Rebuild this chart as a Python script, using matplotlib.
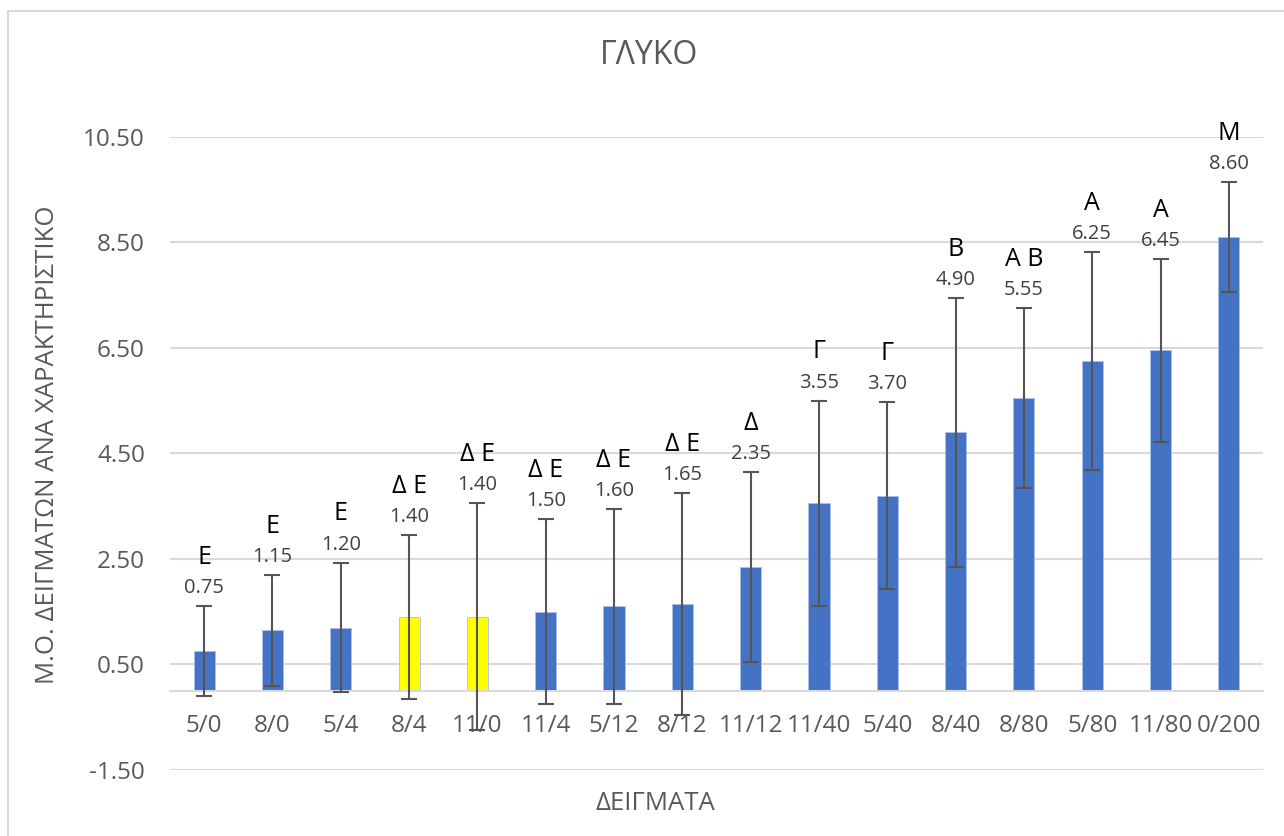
import matplotlib
matplotlib.use('Agg')
import matplotlib.pyplot as plt
import numpy as np

# Data
samples = ['5/0', '8/0', '5/4', '8/4', '11/0', '11/4', '5/12', '8/12',
           '11/12', '11/40', '5/40', '8/40', '8/80', '5/80', '11/80', '0/200']
means = [0.75, 1.15, 1.20, 1.40, 1.40, 1.50, 1.60, 1.65,
         2.35, 3.55, 3.70, 4.90, 5.55, 6.25, 6.45, 8.60]
errors = [0.85, 1.05, 1.23, 1.56, 2.15, 1.75, 1.84, 2.10,
          1.80, 1.95, 1.77, 2.55, 1.70, 2.07, 1.73, 1.04]
groups = ['Ε', 'Ε', 'Ε', 'Δ Ε', 'Δ Ε', 'Δ Ε', 'Δ Ε', 'Δ Ε',
          'Δ', 'Γ', 'Γ', 'Β', 'Α Β', 'Α', 'Α', 'Μ']
highlight = ['8/4', '11/0']

title = 'ΓΛΥΚΟ'
x_title = 'ΔΕΙΓΜΑΤΑ'
y_title = 'Μ.Ο. ΔΕΙΓΜΑΤΩΝ ΑΝΑ ΧΑΡΑΚΤΗΡΙΣΤΙΚΟ'
y_ticks = [-1.5, 0.5, 2.5, 4.5, 6.5, 8.5, 10.5]

plt.rcParams['font.family'] = ['Open Sans', 'DejaVu Sans']

blue = '#4472C4'
yellow = '#FFFF00'
grey_txt = '#595959'
grid_col = '#D9D9D9'

fig = plt.figure(figsize=(12.84, 8.36), dpi=100)
ax = fig.add_axes([170 / 1284, 1 - 770 / 836, 1093 / 1284, (770 - 136.7) / 836])

x = np.arange(len(samples))
colors = [yellow if s in highlight else blue for s in samples]
ax.bar(x, means, width=0.31, color=colors, edgecolor='#A9C0E8', linewidth=0.6, zorder=2)
ax.errorbar(x, means, yerr=errors, fmt='none', ecolor='#555555', elinewidth=1.5,
            capsize=6, capthick=1.5, zorder=3)

# value labels and group letters above the error bars
for i in range(len(samples)):
    top = means[i] + errors[i]
    ax.annotate(f'{means[i]:.2f}', xy=(i, top), xytext=(0, 13), textcoords='offset points',
                ha='center', va='center', fontsize=14.5, color='#404040')
    ax.annotate(groups[i], xy=(i, top), xytext=(0, 35), textcoords='offset points',
                ha='center', va='center', fontsize=18, color='black')

ax.set_xlim(-0.5, len(samples) - 0.5)
ax.set_ylim(-1.5, 10.5)
ax.set_yticks(y_ticks)
ax.set_yticklabels([f'{v:.2f}' for v in y_ticks])
ax.set_xticks(x)
ax.set_xticklabels(samples)
ax.tick_params(axis='y', length=0, pad=18, labelsize=17.5, labelcolor=grey_txt)
ax.tick_params(axis='x', length=0, pad=17, labelsize=17.5, labelcolor=grey_txt)
ax.yaxis.grid(True, color=grid_col, linewidth=1.5, zorder=0)
ax.set_axisbelow(True)

for side in ['top', 'right', 'left']:
    ax.spines[side].set_visible(False)
ax.spines['bottom'].set_position(('data', 0))
ax.spines['bottom'].set_color(grid_col)
ax.spines['bottom'].set_linewidth(1.5)

fig.text(649 / 1284, 1 - 55 / 836, title, ha='center', va='center', fontsize=23, color=grey_txt)
fig.text(655 / 1284, 1 - 803 / 836, x_title, ha='center', va='center', fontsize=18.5, color=grey_txt)
fig.text(48 / 1284, 1 - 445 / 836, y_title, ha='center', va='center', rotation=90,
         fontsize=18.5, color=grey_txt)

# chart area border (left and top edges visible in the screenshot)
fig.add_artist(plt.Line2D([8 / 1284, 8 / 1284], [0, 1 - 11 / 836], transform=fig.transFigure,
                          color=grid_col, linewidth=1.5))
fig.add_artist(plt.Line2D([8 / 1284, 1], [1 - 11 / 836, 1 - 11 / 836], transform=fig.transFigure,
                          color=grid_col, linewidth=1.5))

fig.savefig('out.png', dpi=100)
